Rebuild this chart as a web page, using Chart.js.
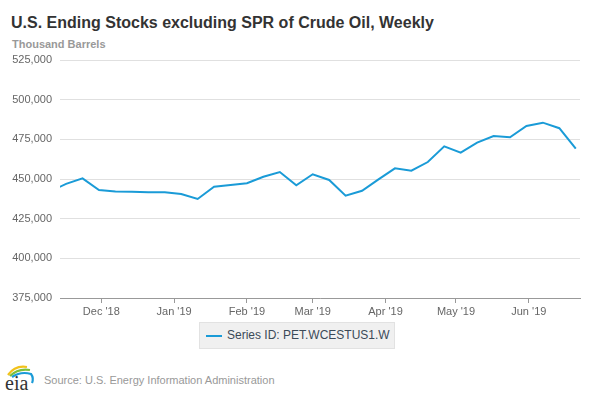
<!DOCTYPE html>
<html>
<head>
<meta charset="utf-8">
<script src="https://cdn.jsdelivr.net/npm/chart.js@4/dist/chart.umd.min.js"></script>
<style>
  html, body { margin: 0; padding: 0; background: #fff; }
  body { width: 590px; height: 393px; position: relative; overflow: hidden; font-family: "Liberation Sans", Arial, sans-serif; }
  #wrap { position: absolute; left: 0; top: 0; width: 590px; height: 330px; }
  #title { position: absolute; left: 11px; top: 14px; font-size: 16px; font-weight: bold; color: #333; line-height: 17px; white-space: nowrap; }
  #unit { position: absolute; left: 12px; top: 38px; font-size: 11px; font-weight: bold; color: #999; line-height: 13px; }
  #legend { position: absolute; left: 199px; top: 322px; width: 194px; height: 25px; background: #f0f0f0; border: 1px solid #e2e2e2; }
  #legend .swatch { position: absolute; left: 6px; top: 12px; width: 16px; height: 2px; background: #1a9bd7; }
  #legend .txt { position: absolute; left: 27px; top: 5px; font-size: 12px; color: #3b4a58; line-height: 15px; white-space: nowrap; }
  #logo { position: absolute; left: 3px; top: 362px; }
  #source { position: absolute; left: 44px; top: 374px; font-size: 11px; color: #999; line-height: 13px; white-space: nowrap; }
</style>
</head>
<body>
<div id="title">U.S. Ending Stocks excluding SPR of Crude Oil, Weekly</div>
<div id="unit">Thousand Barrels</div>
<div id="wrap"><canvas id="grafico"></canvas></div>
<div id="legend"><div class="swatch"></div><div class="txt">Series ID: PET.WCESTUS1.W</div></div>
<svg id="logo" width="34" height="31" viewBox="0 0 34 31">
  <path d="M5 13 Q12 3 24 5" stroke="#f2c21b" stroke-width="2.2" fill="none"/>
  <path d="M7 14 Q15 6 27 8" stroke="#7cbf3a" stroke-width="2.2" fill="none"/>
  <path d="M9 15 Q18 9 28 12 Q31 16 29 21" stroke="#1a9bd7" stroke-width="2.2" fill="none"/>
  <text x="2" y="28" font-family="Liberation Serif, DejaVu Serif, serif" font-size="20" fill="#333">eia</text>
</svg>
<div id="source">Source: U.S. Energy Information Administration</div>

<script>
// weekly dates (week ending) and values, thousand barrels
const fechas = [
  '2018-11-09', '2018-11-16', '2018-11-23', '2018-11-30', '2018-12-07', '2018-12-14',
  '2018-12-21', '2018-12-28', '2019-01-04', '2019-01-11', '2019-01-18', '2019-01-25',
  '2019-02-01', '2019-02-08', '2019-02-15', '2019-02-22', '2019-03-01', '2019-03-08',
  '2019-03-15', '2019-03-22', '2019-03-29', '2019-04-05', '2019-04-12', '2019-04-19',
  '2019-04-26', '2019-05-03', '2019-05-10', '2019-05-17', '2019-05-24', '2019-05-31',
  '2019-06-07', '2019-06-14', '2019-06-21'
];
const valores = [
  442100, 446900, 450400, 443100, 442200, 442000,
  441600, 441600, 440500, 437400, 445100, 446200,
  447300, 451400, 454400, 446000, 453000, 449400,
  439500, 442600, 449800, 456700, 455200, 460700,
  470600, 466600, 472900, 477100, 476300, 483400,
  485500, 482000, 469100
];
const mesesFechas = ['2018-12-01', '2019-01-01', '2019-02-01', '2019-03-01', '2019-04-01', '2019-05-01', '2019-06-01'];
const mesesEtiquetas = ["Dec '18", "Jan '19", "Feb '19", "Mar '19", "Apr '19", "May '19", "Jun '19"];
const yTicks = [375000, 400000, 425000, 450000, 475000, 500000, 525000];

const DIA = 86400000;
const origen = Date.UTC(2018, 10, 1);
const aDia = (s) => { const p = s.split('-'); return (Date.UTC(+p[0], +p[1] - 1, +p[2]) - origen) / DIA; };

const puntos = fechas.map((f, i) => ({ x: aDia(f), y: valores[i] }));
const mesesDias = mesesFechas.map(aDia);

new Chart(document.getElementById('grafico'), {
  type: 'line',
  data: {
    datasets: [{
      label: 'Series ID: PET.WCESTUS1.W',
      data: puntos,
      borderColor: '#1a9bd7',
      borderWidth: 2,
      pointRadius: 0,
      tension: 0,
      fill: false
    }]
  },
  options: {
    animation: false,
    responsive: true,
    maintainAspectRatio: false,
    layout: { padding: { top: 60, right: 10, left: 0, bottom: 0 } },
    plugins: {
      legend: { display: false },
      tooltip: { enabled: false }
    },
    scales: {
      x: {
        type: 'linear',
        min: 12.4,
        max: 233.8,
        afterBuildTicks: (s) => { s.ticks = mesesDias.map(v => ({ value: v })); },
        afterFit: (s) => { s.height = 32; },
        ticks: {
          autoSkip: false,
          maxRotation: 0,
          padding: 2,
          color: '#666',
          font: { family: '"Liberation Sans", Arial, sans-serif', size: 11 },
          callback: (v) => mesesEtiquetas[mesesDias.indexOf(v)]
        },
        grid: { drawOnChartArea: false, drawTicks: true, tickLength: 5, color: '#999' },
        border: { color: '#999', width: 1 }
      },
      y: {
        min: 375000,
        max: 525000,
        afterBuildTicks: (s) => { s.ticks = yTicks.map(v => ({ value: v })); },
        afterFit: (s) => { s.width = 60; },
        ticks: {
          padding: 8,
          color: '#666',
          font: { family: '"Liberation Sans", Arial, sans-serif', size: 11 },
          callback: (v) => v.toLocaleString('en-US')
        },
        grid: { drawTicks: false, color: '#e0e0e0', lineWidth: 1 },
        border: { display: false }
      }
    }
  }
});
</script>
</body>
</html>
